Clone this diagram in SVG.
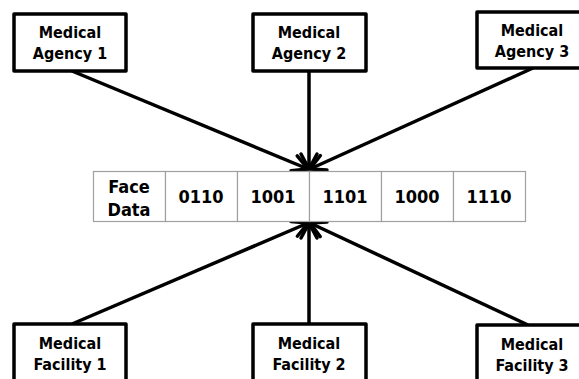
<svg xmlns="http://www.w3.org/2000/svg" width="579" height="379" viewBox="0 0 579 379">
<style>
.box{fill:#fff;stroke:#000;stroke-width:3.5;stroke-linejoin:round}
.cell{fill:#fff;stroke:#a0a0a0;stroke-width:1.2}
.t{font-family:"DejaVu Sans Condensed","DejaVu Sans",Verdana,sans-serif;font-stretch:condensed;font-weight:bold;font-size:16px;text-anchor:middle;fill:#000}
.d{font-size:18px}
.c{stroke:#000;stroke-width:3.5;fill:none;marker-end:url(#ah)}
</style>
<defs>
<marker id="ah" markerUnits="userSpaceOnUse" markerWidth="40" markerHeight="40" refX="0" refY="0" orient="auto" viewBox="-20 -20 40 40" overflow="visible">
<path d="M-15,-8 L0,0 L-15,8" fill="none" stroke="#000" stroke-width="3.5" stroke-linecap="round" stroke-linejoin="round"/>
</marker>
</defs>
<g id="connectors">
<line class="c" x1="72" y1="71" x2="308" y2="169"/>
<line class="c" x1="309" y1="71" x2="309" y2="169"/>
<line class="c" x1="533" y1="68" x2="310" y2="169"/>
<line class="c" x1="72" y1="324" x2="308" y2="223"/>
<line class="c" x1="309" y1="324" x2="309" y2="223"/>
<line class="c" x1="528" y1="325" x2="310" y2="223"/>
</g>
<g id="agency1"><rect class="box" x="14" y="14" width="112" height="57"/><text class="t" x="70" y="38">Medical</text><text class="t" x="70" y="59">Agency 1</text></g>
<g id="agency2"><rect class="box" x="253" y="14" width="113" height="57"/><text class="t" x="309" y="38">Medical</text><text class="t" x="309" y="59">Agency 2</text></g>
<g id="agency3"><rect class="box" x="477" y="12" width="110" height="56"/><text class="t" x="532" y="36">Medical</text><text class="t" x="532" y="57">Agency 3</text></g>
<g id="table">
<rect class="cell" x="93.5" y="171.5" width="72" height="50"/>
<rect class="cell" x="165.5" y="171.5" width="72" height="50"/>
<rect class="cell" x="237.5" y="171.5" width="72" height="50"/>
<rect class="cell" x="309.5" y="171.5" width="72" height="50"/>
<rect class="cell" x="381.5" y="171.5" width="72" height="50"/>
<rect class="cell" x="453.5" y="171.5" width="72" height="50"/>
<text class="t d" x="129" y="193">Face</text><text class="t d" x="129" y="216">Data</text>
<text class="t d" x="201" y="203">0110</text>
<text class="t d" x="273" y="203">1001</text>
<text class="t d" x="345" y="203">1101</text>
<text class="t d" x="417" y="203">1000</text>
<text class="t d" x="489" y="203">1110</text>
</g>
<g id="facility1"><rect class="box" x="14" y="324" width="112" height="70"/><text class="t" x="70" y="349">Medical</text><text class="t" x="70" y="370">Facility 1</text></g>
<g id="facility2"><rect class="box" x="253" y="324" width="113" height="70"/><text class="t" x="309" y="349">Medical</text><text class="t" x="309" y="370">Facility 2</text></g>
<g id="facility3"><rect class="box" x="477" y="325" width="110" height="70"/><text class="t" x="532" y="350">Medical</text><text class="t" x="532" y="371">Facility 3</text></g>
</svg>
